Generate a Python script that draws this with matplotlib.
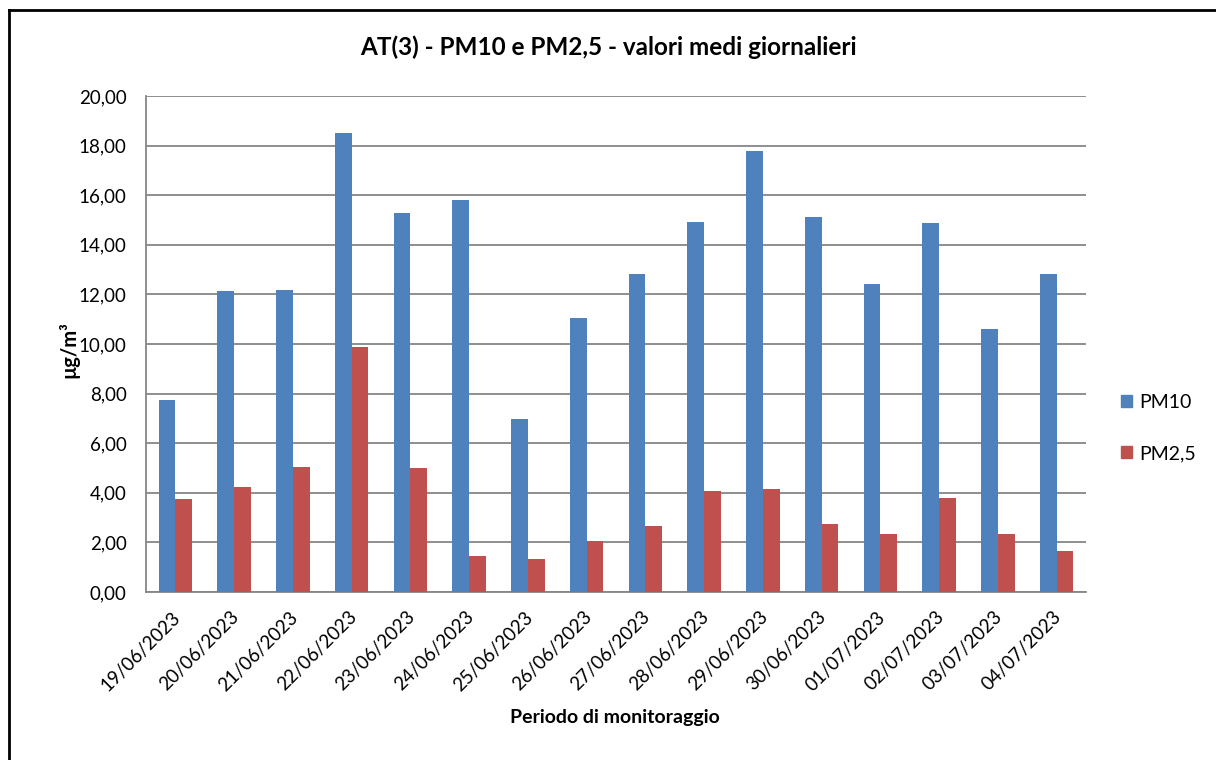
import matplotlib
matplotlib.use('Agg')
import matplotlib.pyplot as plt
import matplotlib.transforms as mtransforms
from matplotlib.lines import Line2D
from matplotlib.patches import Patch
import numpy as np

plt.rcParams['font.family'] = ['Lato', 'DejaVu Sans']

# dati
giorni = ['19/06/2023', '20/06/2023', '21/06/2023', '22/06/2023', '23/06/2023',
          '24/06/2023', '25/06/2023', '26/06/2023', '27/06/2023', '28/06/2023',
          '29/06/2023', '30/06/2023', '01/07/2023', '02/07/2023', '03/07/2023',
          '04/07/2023']
pm10 = [7.73, 12.12, 12.19, 18.51, 15.29, 15.79, 6.98, 11.04,
        12.82, 14.93, 17.79, 15.14, 12.43, 14.88, 10.62, 12.82]
pm25 = [3.75, 4.23, 5.06, 9.88, 5.01, 1.45, 1.34, 2.07,
        2.65, 4.08, 4.14, 2.74, 2.32, 3.81, 2.32, 1.65]

blu = '#4F81BD'
rosso = '#C0504D'
grigio = '#868686'

W, H = 1216, 760
fig = plt.figure(figsize=(W / 100, H / 100), dpi=100)
ax = fig.add_axes([146 / W, 1 - 592 / H, (1086 - 146) / W, (592 - 96) / H])

x = np.arange(len(giorni))
bw = 1 / 3.5
ax.bar(x - bw / 2, pm10, width=bw, color=blu, label='PM10', zorder=3)
ax.bar(x + bw / 2, pm25, width=bw, color=rosso, label='PM2,5', zorder=3)

ax.set_xlim(-0.5, len(giorni) - 0.5)
ax.set_ylim(0, 20)
ax.set_yticks(np.arange(0, 20.01, 2))
ax.set_yticklabels([('%.2f' % v).replace('.', ',') for v in np.arange(0, 20.01, 2)])
ax.yaxis.grid(True, color=grigio, linewidth=1.3, zorder=0)
ax.set_axisbelow(True)
ax.tick_params(axis='y', length=0, pad=14, labelsize=13.5)
ax.tick_params(axis='x', length=0, pad=6, labelsize=13.5)
ax.set_xticks(x)
ax.set_xticklabels(giorni, rotation=45, ha='right', va='top', rotation_mode='anchor')
sposta = mtransforms.ScaledTranslation(-4 / 100, -8 / 100, fig.dpi_scale_trans)
for lab in ax.get_xticklabels():
    lab.set_transform(lab.get_transform() + sposta)

for s in ['top', 'right']:
    ax.spines[s].set_visible(False)
for s in ['left', 'bottom']:
    ax.spines[s].set_color(grigio)
    ax.spines[s].set_linewidth(1.3)

fig.text(608 / W, 1 - 47 / H, 'AT(3) - PM10 e PM2,5 - valori medi giornalieri',
         ha='center', va='center', fontsize=17.5, fontweight='bold')
fig.text(615 / W, 1 - 718 / H, 'Periodo di monitoraggio',
         ha='center', va='center', fontsize=14, fontweight='bold')
fig.text(69 / W, 1 - 350 / H, 'µg/m³', rotation=90,
         ha='center', va='center', fontsize=14.5, fontweight='bold')

handles = [Patch(color=blu), Patch(color=rosso)]
fig.legend(handles, ['PM10', 'PM2,5'], loc='center left',
           bbox_to_anchor=(1103 / W, 1 - 428 / H), frameon=False, fontsize=14,
           handlelength=0.6, handleheight=0.6, handletextpad=0.35, labelspacing=1.75)

# bordo del grafico
fig.add_artist(Line2D([9 / W, 1], [1 - 10 / H, 1 - 10 / H], color='black', linewidth=2))
fig.add_artist(Line2D([9 / W, 9 / W], [0, 1 - 10 / H], color='black', linewidth=2))

fig.savefig('out.png', dpi=100)
